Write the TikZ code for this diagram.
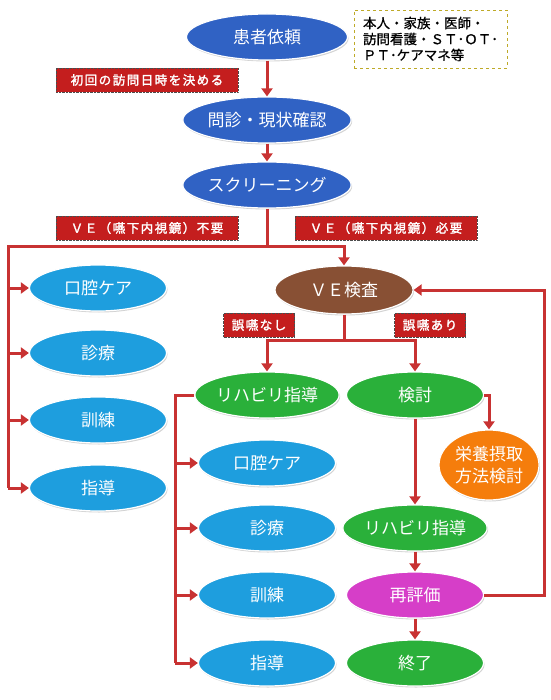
\documentclass[tikz,border=0pt]{standalone}
\usepackage{fontspec}
\usepackage{xcolor}
\usepackage{tikz}
\usetikzlibrary{positioning, arrows.meta, shapes.geometric, shadows}
\newfontfamily\jpfont{Noto Sans CJK JP}
\newfontfamily\jpinfo[FakeBold=0.8]{Noto Sans CJK JP}
\newfontfamily\jptag[LetterSpace=12, FakeBold=2]{Noto Sans CJK JP}

\definecolor{topblue}{RGB}{48,98,196}
\definecolor{skyblue}{RGB}{30,158,222}
\definecolor{leafgreen}{RGB}{42,176,58}
\definecolor{vebrown}{RGB}{136,80,52}
\definecolor{evalpink}{RGB}{214,62,200}
\definecolor{nutriorange}{RGB}{245,125,12}
\definecolor{tagred}{RGB}{196,30,30}
\definecolor{linered}{RGB}{200,50,50}
\definecolor{infoolive}{RGB}{190,170,40}

\tikzset{
    oval/.style={ellipse, draw=white, line width=1.2pt, text=white, inner sep=0pt,
        minimum width=137pt, minimum height=46pt, align=center,
        font=\jpfont\fontsize{17}{21}\selectfont,
        drop shadow={shadow xshift=1pt, shadow yshift=-1.5pt, opacity=0.35}},
    tag/.style={fill=tagred, draw=black!70, densely dotted, text=white, inner sep=0pt,
        minimum height=24pt, font=\jptag\fontsize{12.5}{14}\selectfont},
    link/.style={draw=linered, line width=3pt},
    arr/.style={link, -{Triangle[width=11pt,length=8pt]}}
}

\begin{document}
\begin{tikzpicture}[x=1pt, y=-1pt]
    \useasboundingbox (0,0) rectangle (550,700);

    \node[oval, fill=topblue, minimum width=161pt] (req) at (267, 37) {患者依頼};
    \node[oval, fill=topblue, minimum width=161pt] (interview) at (267, 120) {問診・現状確認};
    \node[oval, fill=topblue, minimum width=161pt] (screen) at (267, 185) {スクリーニング};

    \node[draw=infoolive, dashed, line width=0.8pt, align=left, inner sep=0pt,
        minimum width=153pt, minimum height=58pt,
        font=\jpinfo\fontsize{13.5}{16}\selectfont] (info) at (430.5, 39)
        {本人・家族・医師・\\訪問看護・ＳＴ･ＯＴ･\\ＰＴ･ケアマネ等};

    \node[tag, minimum width=182pt] (tagvisit) at (147, 80) {初回の訪問日時を決める};
    \node[tag, minimum width=182pt] (tagnove) at (147, 228) {ＶＥ（嚥下内視鏡）不要};
    \node[tag, minimum width=182pt] (tagneedve) at (386, 228) {ＶＥ（嚥下内視鏡）必要};

    \node[oval, fill=vebrown, minimum width=138pt, minimum height=48pt] (ve) at (344, 290) {ＶＥ検査};
    \node[tag, minimum width=71pt] (tagsafe) at (259, 325) {誤嚥なし};
    \node[tag, minimum width=71pt] (tagasp) at (430, 325) {誤嚥あり};

    \foreach \n/\y/\t in {lcare/288/口腔ケア, ldiag/353/診療, ltrain/420/訓練, lguide/488/指導} {
        \node[oval, fill=skyblue] (\n) at (98, \y) {\t};
    }

    \node[oval, fill=leafgreen] (rehabA) at (267, 395) {リハビリ指導};
    \node[oval, fill=leafgreen] (review) at (415, 395) {検討};
    \node[oval, fill=nutriorange, minimum width=100pt, minimum height=70pt,
        font=\jpfont\fontsize{17}{22}\selectfont] (nutri) at (489, 465) {栄養摂取\\方法検討};

    \foreach \n/\y/\t in {mcare/463/口腔ケア, mdiag/528/診療, mtrain/595/訓練, mguide/663/指導} {
        \node[oval, fill=skyblue] (\n) at (267, \y) {\t};
    }

    \node[oval, fill=leafgreen] (rehabB) at (415, 528) {リハビリ指導};
    \node[oval, fill=evalpink] (reeval) at (415, 595) {再評価};
    \node[oval, fill=leafgreen] (finish) at (415, 663) {終了};

    \coordinate (splitA) at (267, 247);
    \coordinate (leftbus) at (8, 247);
    \coordinate (splitB) at (344, 340);
    \coordinate (midbus) at (175, 395);
    \coordinate (loopbus) at (544, 595);

    \draw[arr] (req) -- (interview);
    \draw[arr] (interview) -- (screen);
    \draw[link] (screen) -- (splitA);
    \draw[arr] (splitA) -| (ve.north);
    \draw[link] (splitA) -- (leftbus) -- (leftbus |- lguide);
    \foreach \n in {lcare, ldiag, ltrain, lguide} {
        \draw[arr] (leftbus |- \n) -- (\n.west);
    }

    \draw[link] (ve) -- (splitB);
    \draw[arr] (splitB) -| (rehabA.north);
    \draw[arr] (splitB) -| (review.north);
    \draw[arr] (review.east) -| (nutri.north);
    \draw[arr] (review) -- (rehabB);
    \draw[arr] (rehabB) -- (reeval);
    \draw[arr] (reeval) -- (finish);
    \draw[arr] (reeval.east) -- (loopbus) |- (ve.east);

    \draw[link] (rehabA.west) -- (midbus) -- (midbus |- mguide);
    \foreach \n in {mcare, mdiag, mtrain, mguide} {
        \draw[arr] (midbus |- \n) -- (\n.west);
    }
\end{tikzpicture}
\end{document}
